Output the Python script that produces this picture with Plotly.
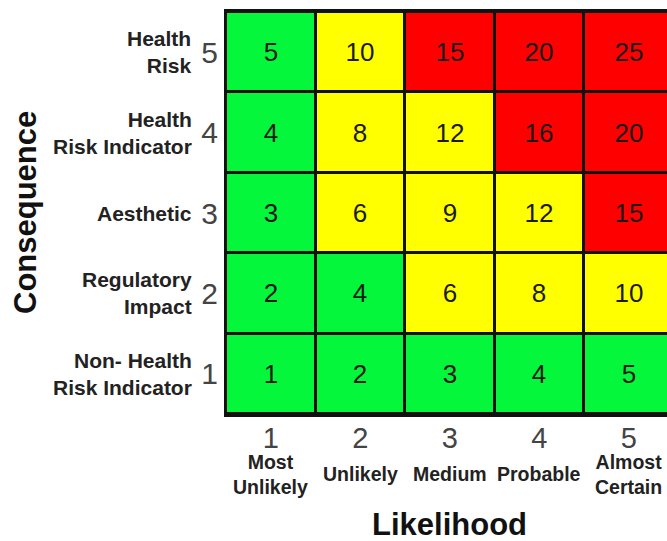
import plotly.graph_objects as go

# ---- data ----
likelihood = [1, 2, 3, 4, 5]
likelihood_names = ["Most<br>Unlikely", "Unlikely", "Medium", "Probable", "Almost<br>Certain"]
consequence = [1, 2, 3, 4, 5]
consequence_names = ["Non- Health<br>Risk Indicator", "Regulatory<br>Impact", "Aesthetic",
                     "Health<br>Risk Indicator", "Health<br>Risk"]
# risk scores, rows from consequence 1 (bottom) to 5 (top)
scores = [
    [1, 2, 3, 4, 5],
    [2, 4, 6, 8, 10],
    [3, 6, 9, 12, 15],
    [4, 8, 12, 16, 20],
    [5, 10, 15, 20, 25],
]
# risk level: 0 = low (green), 1 = medium (yellow), 2 = high (red)
levels = [
    [0, 0, 0, 0, 0],
    [0, 0, 1, 1, 1],
    [0, 1, 1, 1, 2],
    [0, 1, 1, 2, 2],
    [0, 1, 2, 2, 2],
]

GREEN, YELLOW, RED = "#05f73c", "#ffff00", "#ff0000"
FONT = "Liberation Sans, Arial, Helvetica, sans-serif"

fig = go.Figure(go.Heatmap(
    x=likelihood, y=consequence, z=levels,
    text=scores, texttemplate="%{text}",
    textfont=dict(size=26, color="#1a1a1a", family=FONT),
    zmin=-0.5, zmax=2.5,
    colorscale=[[0, GREEN], [1/3, GREEN], [1/3, YELLOW], [2/3, YELLOW], [2/3, RED], [1, RED]],
    showscale=False, xgap=3, ygap=3, hoverinfo="skip",
))

fig.update_layout(
    width=667, height=541,
    margin=dict(l=226, r=0, t=12, b=127),
    paper_bgcolor="white", plot_bgcolor="#111111",
    font=dict(family=FONT),
    xaxis=dict(range=[0.5, 5.427], tickmode="array", tickvals=likelihood,
               ticktext=[str(v) for v in likelihood],
               tickfont=dict(size=29, color="#444444"), showgrid=False, zeroline=False,
               showline=True, linecolor="#111111", linewidth=3, mirror=True,
               ticks="", ticklabelstandoff=-4, fixedrange=True),
    yaxis=dict(range=[0.5, 5.5], tickmode="array", tickvals=consequence,
               ticktext=[str(v) for v in consequence],
               tickfont=dict(size=30, color="#444444"), showgrid=False, zeroline=False,
               showline=True, linecolor="#111111", linewidth=2, mirror=False,
               ticks="", fixedrange=True),
)

annotations = []
for v, name in zip(consequence, consequence_names):
    annotations.append(dict(
        x=0, xref="paper", y=v, yref="y", xanchor="right", yanchor="middle",
        xshift=-32, text="<b>%s</b>" % name, showarrow=False, align="right",
        font=dict(size=21, color="#222222", family=FONT)))
for v, name in zip(likelihood, likelihood_names):
    annotations.append(dict(
        x=v, xref="x", y=0, yref="paper", xanchor="center", yanchor="middle",
        yshift=-60, text="<b>%s</b>" % name, showarrow=False, align="center",
        font=dict(size=19.5, color="#222222", family=FONT)))
annotations.append(dict(
    x=3, xref="x", y=0, yref="paper", yshift=-110, xanchor="center", yanchor="middle",
    text="<b>Likelihood</b>", showarrow=False, font=dict(size=31, color="#111111", family=FONT)))
annotations.append(dict(
    x=0, xref="paper", xshift=-201, y=0.5, yref="paper", xanchor="center", yanchor="middle",
    text="<b>Consequence</b>", textangle=-90, showarrow=False,
    font=dict(size=31, color="#111111", family=FONT)))
fig.update_layout(annotations=annotations)

fig.write_html("out.html", config={"displayModeBar": False},
               post_script="document.body.style.margin='0';document.body.style.overflow='hidden';")
